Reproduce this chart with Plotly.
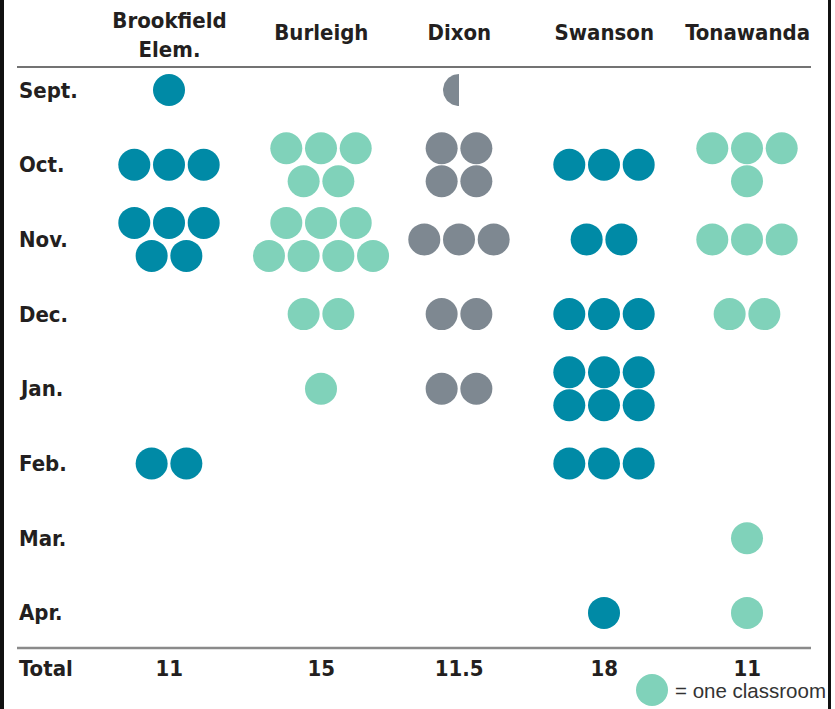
import math
import plotly.graph_objects as go

# ---------------- data ----------------
schools = ["Brookfield<br>Elem.", "Burleigh", "Dixon", "Swanson", "Tonawanda"]
months = ["Sept.", "Oct.", "Nov.", "Dec.", "Jan.", "Feb.", "Mar.", "Apr."]
brookfield = [1, 3, 5, 0, 0, 2, 0, 0]
burleigh = [0, 5, 7, 2, 1, 0, 0, 0]
dixon = [0.5, 4, 3, 2, 2, 0, 0, 0]
swanson = [0, 3, 2, 3, 6, 3, 0, 1]
tonawanda = [0, 4, 3, 2, 0, 0, 1, 1]
series = [brookfield, burleigh, dixon, swanson, tonawanda]
legend_text = "= one classroom"

# ---------------- styling / layout ----------------
W, H = 835, 709
TEAL = "#008aa6"
MINT = "#80d2ba"
GRAY = "#7e8891"
colors = [TEAL, MINT, GRAY, TEAL, MINT]
COL_X = [169, 321, 459, 604, 747]
ROW_Y0, ROW_DY = 90, 74.7
DOT = 32
DX = 34.7
DY = 33
# how the dots of a cell are split into stacked rows
splits = {(0, 2): [3, 2], (1, 1): [3, 2], (1, 2): [3, 4], (2, 1): [2, 2],
          (3, 4): [3, 3], (4, 1): [3, 1]}
BOLD = "DejaVu Sans, sans-serif"
REG = "Liberation Sans, Arial, sans-serif"
TXT = "#231f20"


def bold_font(size=22):
    return dict(family=BOLD, size=size, color=TXT, weight="bold")


fig = go.Figure()

for si, vals in enumerate(series):
    xs, ys = [], []
    for mi, v in enumerate(vals):
        if v <= 0:
            continue
        cy = ROW_Y0 + ROW_DY * mi
        rows = splits.get((si, mi), [v])
        nrows = len(rows)
        for ri, c in enumerate(rows):
            ry = cy + (ri - (nrows - 1) / 2) * DY
            slots = math.ceil(c)
            full = int(c)
            for k in range(slots):
                rx = COL_X[si] + (k - (slots - 1) / 2) * DX
                if k < full:
                    xs.append(rx)
                    ys.append(ry)
                else:
                    # fractional classroom: left half of a dot
                    r = DOT / 2
                    angs = [math.pi / 2 + math.pi * t / 40 for t in range(41)]
                    px = [rx + r * math.cos(a) for a in angs] + [rx]
                    py = [ry - r * math.sin(a) for a in angs] + [ry - r]
                    fig.add_trace(go.Scatter(x=px, y=py, mode="lines", fill="toself",
                                             fillcolor=colors[si], line=dict(width=0),
                                             hoverinfo="skip", showlegend=False))
    fig.add_trace(go.Scatter(x=xs, y=ys, mode="markers",
                             marker=dict(size=DOT, color=colors[si], line=dict(width=0)),
                             hoverinfo="skip", showlegend=False))

# legend dot
fig.add_trace(go.Scatter(x=[652], y=[690], mode="markers",
                         marker=dict(size=DOT, color=MINT, line=dict(width=0)),
                         hoverinfo="skip", showlegend=False))

ann = []
for si, name in enumerate(schools):
    two_line = "<br>" in name
    ann.append(dict(x=COL_X[si], y=35 if two_line else 32, text=name, showarrow=False,
                    xanchor="center", yanchor="middle", align="center", font=bold_font()))
    tot = sum(series[si])
    ann.append(dict(x=COL_X[si], y=668, text=f"{tot:g}", showarrow=False, xanchor="center",
                    yanchor="middle", align="center", font=bold_font()))
for mi, m in enumerate(months):
    ann.append(dict(x=17, y=ROW_Y0 + ROW_DY * mi, text=m, showarrow=False, xanchor="left",
                    yanchor="middle", align="left", font=bold_font()))
ann.append(dict(x=17, y=668, text="Total", showarrow=False, xanchor="left", yanchor="middle",
                align="left", font=bold_font()))
ann.append(dict(x=673, y=690, text=legend_text, showarrow=False, xanchor="left", yanchor="middle",
                align="left", font=dict(family=REG, size=20.5, color="#333333")))
for a in ann:
    a.update(xref="x", yref="y")

shapes = [
    dict(type="line", x0=17, x1=811, y0=67, y1=67, line=dict(color="#444444", width=1.5)),
    dict(type="line", x0=17, x1=811, y0=648, y1=648, line=dict(color="#8a8a8a", width=2.5)),
    dict(type="rect", x0=0, x1=4, y0=0, y1=H, fillcolor="#111111", line=dict(width=0)),
    dict(type="rect", x0=828, x1=831, y0=0, y1=H, fillcolor="#111111", line=dict(width=0)),
]
for s in shapes:
    s.update(xref="x", yref="y", layer="below")

fig.update_layout(
    width=W, height=H, margin=dict(l=0, r=0, t=0, b=0),
    paper_bgcolor="white", plot_bgcolor="white",
    xaxis=dict(range=[0, W], visible=False, fixedrange=True),
    yaxis=dict(range=[H, 0], visible=False, fixedrange=True),
    annotations=ann, shapes=shapes, showlegend=False,
)
post = (
    "var s=document.createElement('style');"
    "s.textContent='text.annotation-text{font-stretch:condensed;}';"
    "document.head.appendChild(s);"
    "document.body.style.margin='0';document.body.style.overflow='hidden';"
    "var t=document.querySelectorAll('text.annotation-text');"
    "if(t.length){t[t.length-1].style.fontStretch='normal';}"
)
fig.write_html("out.html", config={"displayModeBar": False}, post_script=post)
